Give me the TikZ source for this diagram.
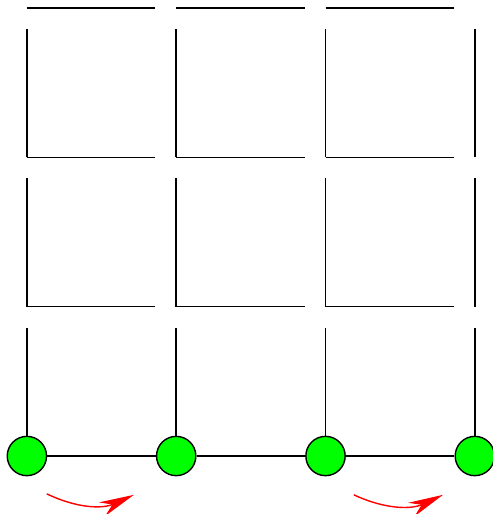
\documentclass[tikz,border=0pt]{standalone}
\usepackage{tikz}
\usetikzlibrary{arrows.meta}
\definecolor{sitegreen}{RGB}{0,255,0}
\tikzset{
  site/.style={draw, thick, circle, fill=sitegreen,
    minimum size=0.79cm, inner sep=0pt},
  bond/.style={thick},
  halfbond/.style={thick, shorten >=0.42cm},
  hop/.style={-{Stealth[length=0.7cm, width=0.3cm]}, red, thick,
    bend right=25},
}

\begin{document}
\begin{tikzpicture}
  \useasboundingbox (-0.54,-1.165) rectangle (9.365,9.162);

  % Lattice points
  \coordinate (p01) at (0,3);
  \coordinate (p11) at (3,3);
  \coordinate (p21) at (6,3);
  \coordinate (p31) at (9,3);
  \coordinate (p02) at (0,6);
  \coordinate (p12) at (3,6);
  \coordinate (p22) at (6,6);
  \coordinate (p32) at (9,6);
  \coordinate (p03) at (0,9);
  \coordinate (p13) at (3,9);
  \coordinate (p23) at (6,9);
  \coordinate (p33) at (9,9);

  % Sites on the bottom row
  \node[site] (s0) at (0,0) {};
  \node[site] (s1) at (3,0) {};
  \node[site] (s2) at (6,0) {};
  \node[site] (s3) at (9,0) {};

  \draw[bond] (s0) -- (s1);
  \draw[bond] (s1) -- (s2);
  \draw[bond] (s2) -- (s3);

  % Half bonds
  \draw (s0) edge[halfbond] (p01);
  \draw (s1) edge[halfbond] (p11);
  \draw (s2) edge[halfbond] (p21);
  \draw (s3) edge[halfbond] (p31);
  \draw (p01) edge[halfbond] (p11) edge[halfbond] (p02);
  \draw (p11) edge[halfbond] (p21) edge[halfbond] (p12);
  \draw (p21) edge[halfbond] (p31) edge[halfbond] (p22);
  \draw (p31) edge[halfbond] (p32);
  \draw (p02) edge[halfbond] (p12) edge[halfbond] (p03);
  \draw (p12) edge[halfbond] (p22) edge[halfbond] (p13);
  \draw (p22) edge[halfbond] (p32) edge[halfbond] (p23);
  \draw (p32) edge[halfbond] (p33);
  \draw (p03) edge[halfbond] (p13);
  \draw (p13) edge[halfbond] (p23);
  \draw (p23) edge[halfbond] (p33);

  % Hops
  \coordinate (h0) at (0.40,-0.76);
  \coordinate (h1) at (2.15,-0.78);
  \coordinate (h2) at (6.57,-0.78);
  \coordinate (h3) at (8.36,-0.78);
  \draw[hop] (h0) to (h1);
  \draw[hop] (h2) to (h3);
\end{tikzpicture}
\end{document}
